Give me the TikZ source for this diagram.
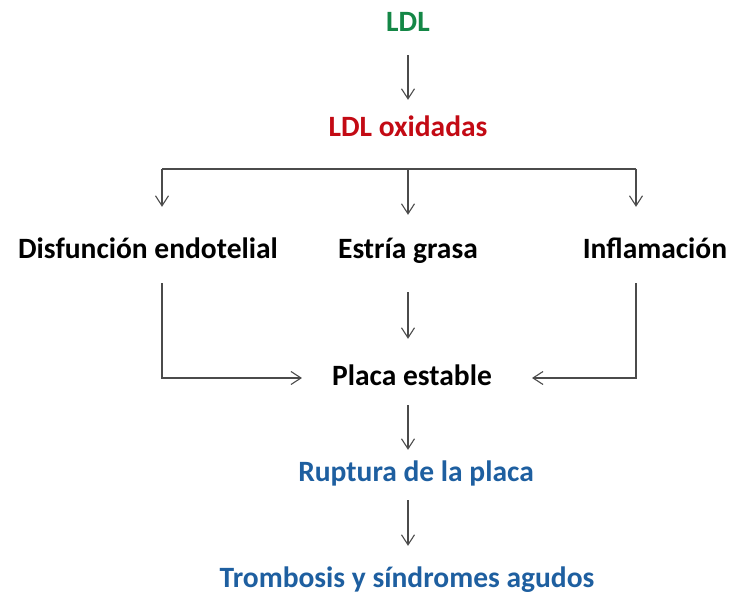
\documentclass[tikz,border=0pt]{standalone}
\usepackage{fontspec}
\setmainfont{Carlito}
\usetikzlibrary{positioning,arrows.meta}
\definecolor{ldlGreen}{RGB}{20,135,70}
\definecolor{oxidizedRed}{RGB}{195,10,20}
\definecolor{ruptureBlue}{RGB}{30,95,160}
\definecolor{arrowGray}{RGB}{75,75,75}
\tikzstyle{stepText} = [font=\bfseries\fontsize{29.5}{34}\selectfont, inner sep=0pt, anchor=base, text height=20pt, text depth=6pt]
\tikzstyle{flowLine} = [color=arrowGray, line width=1.1pt]
\tikzstyle{flowArrow} = [flowLine, -{Straight Barb[length=10pt, width=13pt]}]
\begin{document}
\begin{tikzpicture}[x=1pt, y=-1pt]
  \useasboundingbox (0,0) rectangle (730,593);
  % texts (placed at their baselines)
  \node [stepText, ldlGreen] (ldl) at (408,32) {LDL};
  \node [stepText, oxidizedRed] (oxidized) at (408,137) {LDL oxidadas};
  \node [stepText] (dysfunction) at (148,259) {Disfunción endotelial};
  \node [stepText] (fattyStreak) at (408,259) {Estría grasa};
  \node [stepText] (inflammation) at (655,259) {Inflamación};
  \node [stepText] (stablePlaque) at (412,385) {Placa estable};
  \node [stepText, ruptureBlue] (rupture) at (416,481) {Ruptura de la placa};
  \node [stepText, ruptureBlue] (thrombosis) at (407,587) {Trombosis y síndromes agudos};
  % branch points
  \coordinate (branchLeft) at (162,169);
  \coordinate (branchMid) at (408,169);
  \coordinate (branchRight) at (636,169);
  \coordinate (cornerLeft) at (162,378);
  \coordinate (cornerRight) at (636,378);
  % arrows
  \draw [flowArrow, shorten <=17pt, shorten >=17pt] (ldl) -- (oxidized);
  \draw [flowLine] (branchLeft) -- (branchRight);
  \draw [flowArrow, shorten >=32pt] (branchLeft) -- (branchLeft |- dysfunction.north);
  \draw [flowArrow, shorten >=24pt] (branchMid) -- (fattyStreak.north);
  \draw [flowArrow, shorten >=32pt] (branchRight) -- (branchRight |- inflammation.north);
  \draw [flowArrow, shorten <=27pt, shorten >=26pt] (fattyStreak.south) -- (fattyStreak |- stablePlaque.north);
  \draw [flowArrow, shorten <=18pt, shorten >=30pt] (branchLeft |- dysfunction.south) -- (cornerLeft) -- (stablePlaque.west |- cornerLeft);
  \draw [flowArrow, shorten <=18pt, shorten >=40pt] (branchRight |- inflammation.south) -- (cornerRight) -- (stablePlaque.east |- cornerRight);
  \draw [flowArrow, shorten <=14pt, shorten >=11pt] (fattyStreak |- stablePlaque.south) -- (fattyStreak |- rupture.north);
  \draw [flowArrow, shorten <=13pt, shorten >=21pt] (fattyStreak |- rupture.south) -- (fattyStreak |- thrombosis.north);
\end{tikzpicture}
\end{document}
